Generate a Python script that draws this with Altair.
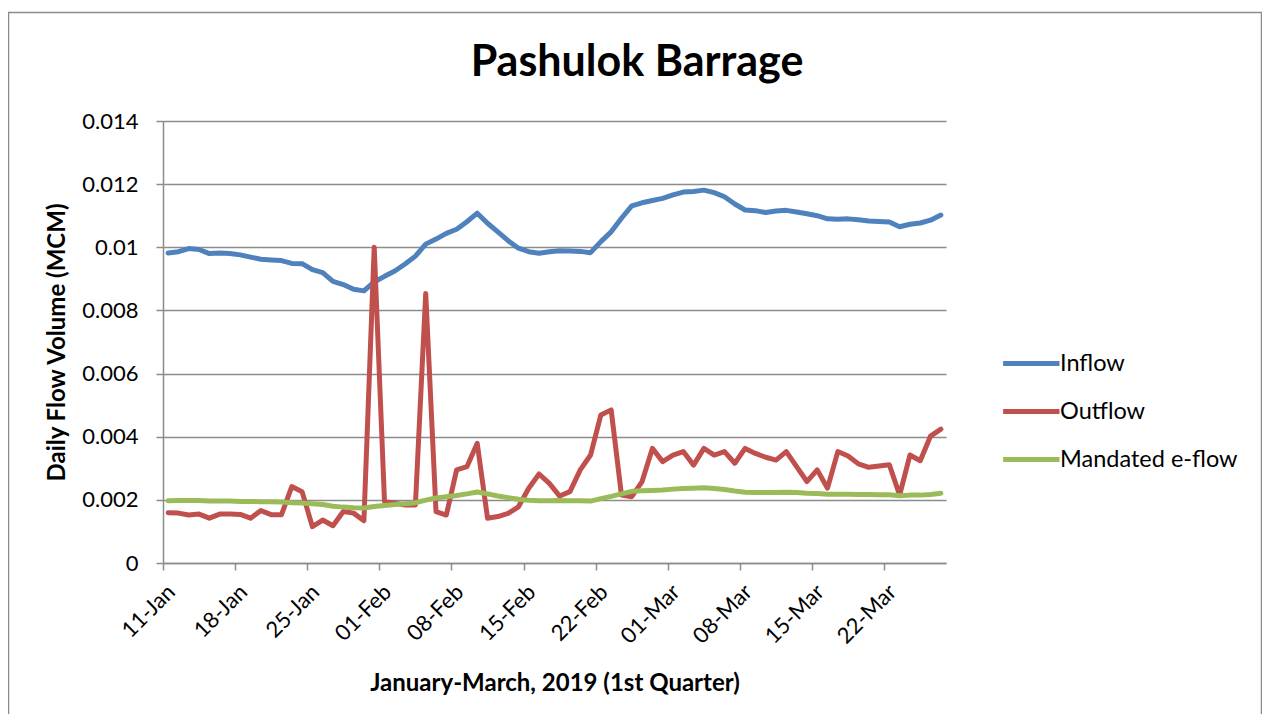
import altair as alt
import pandas as pd

# ---- data (daily, 11-Jan-2019 .. 27-Mar-2019) ----
start_date = "2019-01-11"
n_days = 76
series_names = ["Inflow", "Outflow", "Mandated e-flow"]
series_colors = ["#4F81BD", "#C0504D", "#9BBB59"]

inflow = [
    0.00982, 0.00986, 0.00996, 0.00993, 0.00980, 0.00982, 0.00980, 0.00976, 0.00969, 0.00962,
    0.00960, 0.00958, 0.00949, 0.00948, 0.00929, 0.00920, 0.00892, 0.00882, 0.00867, 0.00862,
    0.00890, 0.00908, 0.00925, 0.00947, 0.00972, 0.01010, 0.01026, 0.01044, 0.01057, 0.01081,
    0.01108, 0.01076, 0.01049, 0.01021, 0.00997, 0.00986, 0.00981, 0.00986, 0.00989, 0.00988,
    0.00987, 0.00983, 0.01018, 0.01049, 0.01092, 0.01131, 0.01141, 0.01148, 0.01155, 0.01166,
    0.01175, 0.01177, 0.01181, 0.01173, 0.01160, 0.01137, 0.01118, 0.01116, 0.01110, 0.01115,
    0.01117, 0.01112, 0.01106, 0.01100, 0.01090, 0.01089, 0.01090, 0.01087, 0.01083, 0.01082,
    0.01080, 0.01065, 0.01073, 0.01077, 0.01086, 0.01102,
]
outflow = [
    0.00159, 0.00158, 0.00152, 0.00155, 0.00142, 0.00155, 0.00155, 0.00154, 0.00142, 0.00166,
    0.00153, 0.00153, 0.00242, 0.00226, 0.00115, 0.00136, 0.00118, 0.00163, 0.00158, 0.00134,
    0.01000, 0.00194, 0.00189, 0.00184, 0.00184, 0.00854, 0.00163, 0.00152, 0.00295, 0.00305,
    0.00379, 0.00142, 0.00147, 0.00157, 0.00178, 0.00237, 0.00282, 0.00252, 0.00212, 0.00226,
    0.00295, 0.00342, 0.00469, 0.00485, 0.00215, 0.00210, 0.00258, 0.00363, 0.00321, 0.00342,
    0.00353, 0.00310, 0.00363, 0.00342, 0.00353, 0.00316, 0.00363, 0.00347, 0.00335, 0.00326,
    0.00353, 0.00305, 0.00258, 0.00295, 0.00237, 0.00353, 0.00339, 0.00314, 0.00303, 0.00307,
    0.00311, 0.00215, 0.00342, 0.00324, 0.00402, 0.00424,
]
mandated = [
    0.00197, 0.00198, 0.00198, 0.00198, 0.00196, 0.00196, 0.00196, 0.00195, 0.00195, 0.00194,
    0.00194, 0.00193, 0.00191, 0.00190, 0.00188, 0.00185, 0.00180, 0.00177, 0.00175, 0.00174,
    0.00179, 0.00182, 0.00185, 0.00188, 0.00191, 0.00199, 0.00206, 0.00210, 0.00214, 0.00219,
    0.00225, 0.00219, 0.00212, 0.00207, 0.00202, 0.00199, 0.00197, 0.00197, 0.00198, 0.00197,
    0.00197, 0.00196, 0.00204, 0.00211, 0.00219, 0.00227, 0.00229, 0.00230, 0.00231, 0.00234,
    0.00236, 0.00237, 0.00238, 0.00236, 0.00233, 0.00228, 0.00224, 0.00223, 0.00223, 0.00223,
    0.00224, 0.00223, 0.00221, 0.00220, 0.00218, 0.00218, 0.00218, 0.00217, 0.00217, 0.00216,
    0.00216, 0.00213, 0.00215, 0.00215, 0.00217, 0.00221,
]
y_ticks = [0, 0.002, 0.004, 0.006, 0.008, 0.01, 0.012, 0.014]
x_tick_days = [-0.5 + 7 * k for k in range(11)]  # category boundaries every 7 days

dates = pd.date_range(start_date, periods=n_days, freq="D")
rows = []
for name, vals in zip(series_names, [inflow, outflow, mandated]):
    for i, v in enumerate(vals):
        rows.append({"day": i, "date": dates[i].strftime("%d-%b"), "series": name, "value": v})
df = pd.DataFrame(rows)

FONT = "Lato"
GRID = "#8c8c8c"
W, H = 783, 442

lines = alt.Chart(df).mark_line(strokeWidth=5, strokeCap="round", strokeJoin="round").encode(
    x=alt.X(
        "day:Q",
        scale=alt.Scale(domain=[-0.5, n_days - 0.5], nice=False, zero=False),
        axis=alt.Axis(
            values=x_tick_days,
            labelExpr="timeFormat(datetime(2019, 0, 11 + datum.value + 0.5), '%d-%b')",
            labelAngle=-45,
            labelAlign="right",
            labelBaseline="middle",
            labelOffset=8,
            labelPadding=18,
            tickSize=7,
            grid=False,
            title="January-March, 2019 (1st Quarter)",
            titleY=120,
            titleBaseline="middle",
        ),
    ),
    y=alt.Y(
        "value:Q",
        scale=alt.Scale(domain=[0, 0.014], nice=False),
        axis=alt.Axis(
            values=y_ticks,
            format="~g",
            tickSize=7,
            labelPadding=18,
            title="Daily Flow Volume (MCM)",
            titleX=-106,
            titleY=H / 2,
            titleAngle=-90,
            titleAlign="center",
            titleBaseline="middle",
        ),
    ),
    color=alt.Color(
        "series:N",
        scale=alt.Scale(domain=series_names, range=series_colors),
        sort=series_names,
        legend=alt.Legend(
            title=None,
            orient="none",
            legendX=843.5,
            legendY=216.5,
            symbolType="M-1.25,0L1.15,0",
            symbolSize=2209,
            symbolStrokeWidth=5,
            labelOffset=1.5,
            labelFontSize=23.5,
            labelFont=FONT,
            labelColor="#000000",
            labelLimit=400,
            rowPadding=10,
            padding=0,
        ),
    ),
    detail="series:N",
)

one = pd.DataFrame({"k": [0]})
border = alt.Chart(one).mark_rect(fillOpacity=0, stroke=GRID, strokeWidth=1.5).encode(
    x=alt.value(-154.5), x2=alt.value(1098.5), y=alt.value(-108.5), y2=alt.value(700)
)
title = alt.Chart(one).mark_text(
    text="Pashulok Barrage", font=FONT, fontSize=43, fontWeight="bold",
    align="center", baseline="middle", color="#000000",
).encode(x=alt.value(474), y=alt.value(-58))

chart = alt.layer(border, lines, title).properties(
    width=W,
    height=H,
    autosize=alt.AutoSizeParams(type="none"),
    padding={"left": 155, "top": 113, "right": 316, "bottom": 151},
    background="#ffffff",
).configure_view(stroke=None).configure_axis(
    labelFont=FONT,
    labelFontSize=22,
    labelColor="#000000",
    titleFont=FONT,
    titleFontSize=24,
    titleFontWeight="bold",
    titleColor="#000000",
    domainColor=GRID,
    domainWidth=1.5,
    tickColor=GRID,
    tickWidth=1.5,
    gridColor=GRID,
    gridWidth=1.5,
)

chart.save("out.html", embed_options={"renderer": "svg", "actions": False})
